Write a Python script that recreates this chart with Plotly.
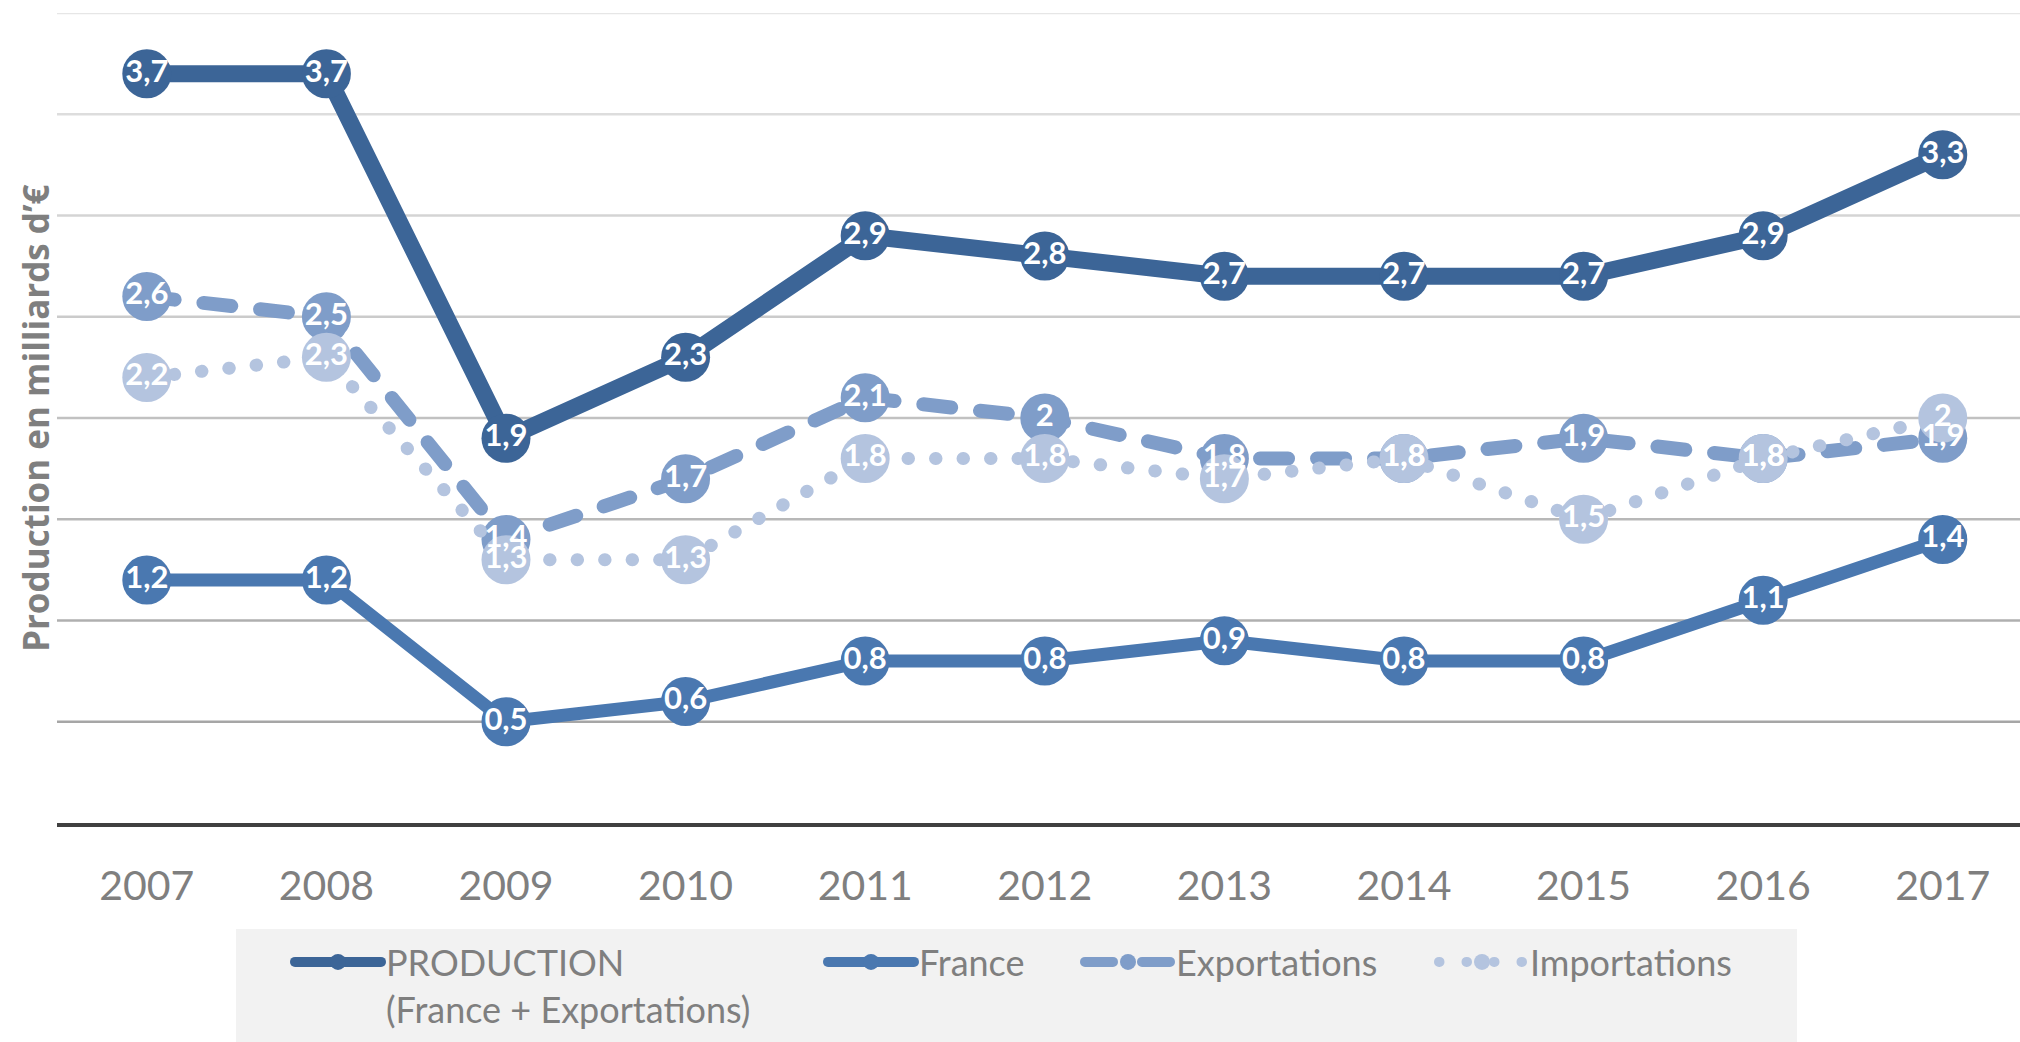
import plotly.graph_objects as go

years = ["2007", "2008", "2009", "2010", "2011", "2012", "2013", "2014", "2015", "2016", "2017"]
production = [3.7, 3.7, 1.9, 2.3, 2.9, 2.8, 2.7, 2.7, 2.7, 2.9, 3.3]
france = [1.2, 1.2, 0.5, 0.6, 0.8, 0.8, 0.9, 0.8, 0.8, 1.1, 1.4]
exportations = [2.6, 2.5, 1.4, 1.7, 2.1, 2.0, 1.8, 1.8, 1.9, 1.8, 1.9]
importations = [2.2, 2.3, 1.3, 1.3, 1.8, 1.8, 1.7, 1.8, 1.5, 1.8, 2.0]

series_names = ["PRODUCTION<br>(France + Exportations)", "France", "Exportations", "Importations"]
series_values = [production, france, exportations, importations]
series_colors = ["#3C6597", "#4A78B0", "#7F9DC9", "#B4C4DF"]
line_widths = [17, 13, 14, 13]
dashes = ["solid", "solid", "28px,29px", "0.5px,27px"]
legend_ids = ["legend", "legend2", "legend3", "legend4"]
grid_values = [0.5, 1.0, 1.5, 2.0, 2.5, 3.0, 3.5, 4.0]
y_title = "Production en milliards d’€"

GRAY = "#7F7F7F"


def fmt(v):
    return ("%g" % v).replace(".", ",")


fig = go.Figure()

# lines + markers (Excel order, last on top)
for name, vals, col, lw, dash, lg in zip(series_names, series_values, series_colors,
                                         line_widths, dashes, legend_ids):
    fig.add_trace(go.Scatter(
        x=years, y=vals, name=name, mode="lines+markers",
        line=dict(color=col, width=lw, dash=dash),
        marker=dict(size=49, color=col, line=dict(width=0)),
        legend=lg, cliponaxis=False,
    ))

# data labels drawn above every series
for vals in series_values:
    fig.add_trace(go.Scatter(
        x=years, y=vals, mode="text", showlegend=False,
        text=[fmt(v) for v in vals], textposition="middle center",
        textfont=dict(family="Lato", size=31, color="white", weight="bold"),
        cliponaxis=False, hoverinfo="skip",
    ))

# gridlines with a light-to-dark gradient (top light, bottom dark)
top_rgb = (0xE6, 0xE6, 0xE6)
bot_rgb = (0xA6, 0xA6, 0xA6)
gmin, gmax = min(grid_values), max(grid_values)
shapes = []
for g in grid_values:
    t = (g - gmin) / (gmax - gmin)
    c = tuple(round(b + (tp - b) * t) for b, tp in zip(bot_rgb, top_rgb))
    shapes.append(dict(type="line", xref="paper", x0=0, x1=1, yref="y", y0=g, y1=g,
                       line=dict(color="rgb(%d,%d,%d)" % c, width=2.5), layer="below"))

# legend background box
shapes.append(dict(type="rect", xref="paper", yref="paper",
                   x0=(236 - 57) / 1963, x1=(1797 - 57) / 1963,
                   y0=-0.40, y1=(823 - 929) / 810,
                   fillcolor="#F2F2F2", line=dict(width=0), layer="below"))

legend_common = dict(orientation="h", xref="container", yref="container",
                     xanchor="left", yanchor="top", bgcolor="rgba(0,0,0,0)",
                     borderwidth=0, itemwidth=86, valign="top",
                     font=dict(family="Lato", size=36, color=GRAY))
legend_x = [290, 823, 1080, 1434]
legend_top = 932

layout_legends = {}
for lg, lx in zip(legend_ids, legend_x):
    d = dict(legend_common)
    d["x"] = lx / 2020
    d["y"] = 1 - legend_top / 1042
    layout_legends[lg] = d

fig.update_layout(
    width=2020, height=1042,
    margin=dict(l=57, r=0, t=13, b=219),
    paper_bgcolor="white", plot_bgcolor="white",
    shapes=shapes,
    xaxis=dict(type="category", range=[-0.5, 10.43], showgrid=False, zeroline=False,
               showline=True, linecolor="#404040", linewidth=4, ticks="",
               tickfont=dict(family="Lato", size=41, color=GRAY), ticklabelstandoff=24),
    yaxis=dict(range=[0, 4], showgrid=False, zeroline=False, showline=False,
               showticklabels=False, ticks=""),
    annotations=[dict(text=y_title, textangle=-90, xref="paper", yref="paper",
                      x=(35 - 57) / 1963, y=0.5, xanchor="center", yanchor="middle",
                      showarrow=False,
                      font=dict(family="Open Sans", size=35, color=GRAY, weight="bold"))],
    **layout_legends,
)

post = """
document.body.style.margin='0';
document.body.style.overflow='hidden';
document.querySelectorAll('.js-line').forEach(function(p){
  p.style.strokeLinecap='round'; p.style.strokeLinejoin='round';
});
"""
fig.write_html("out.html", post_script=post, config={"displayModeBar": False})
